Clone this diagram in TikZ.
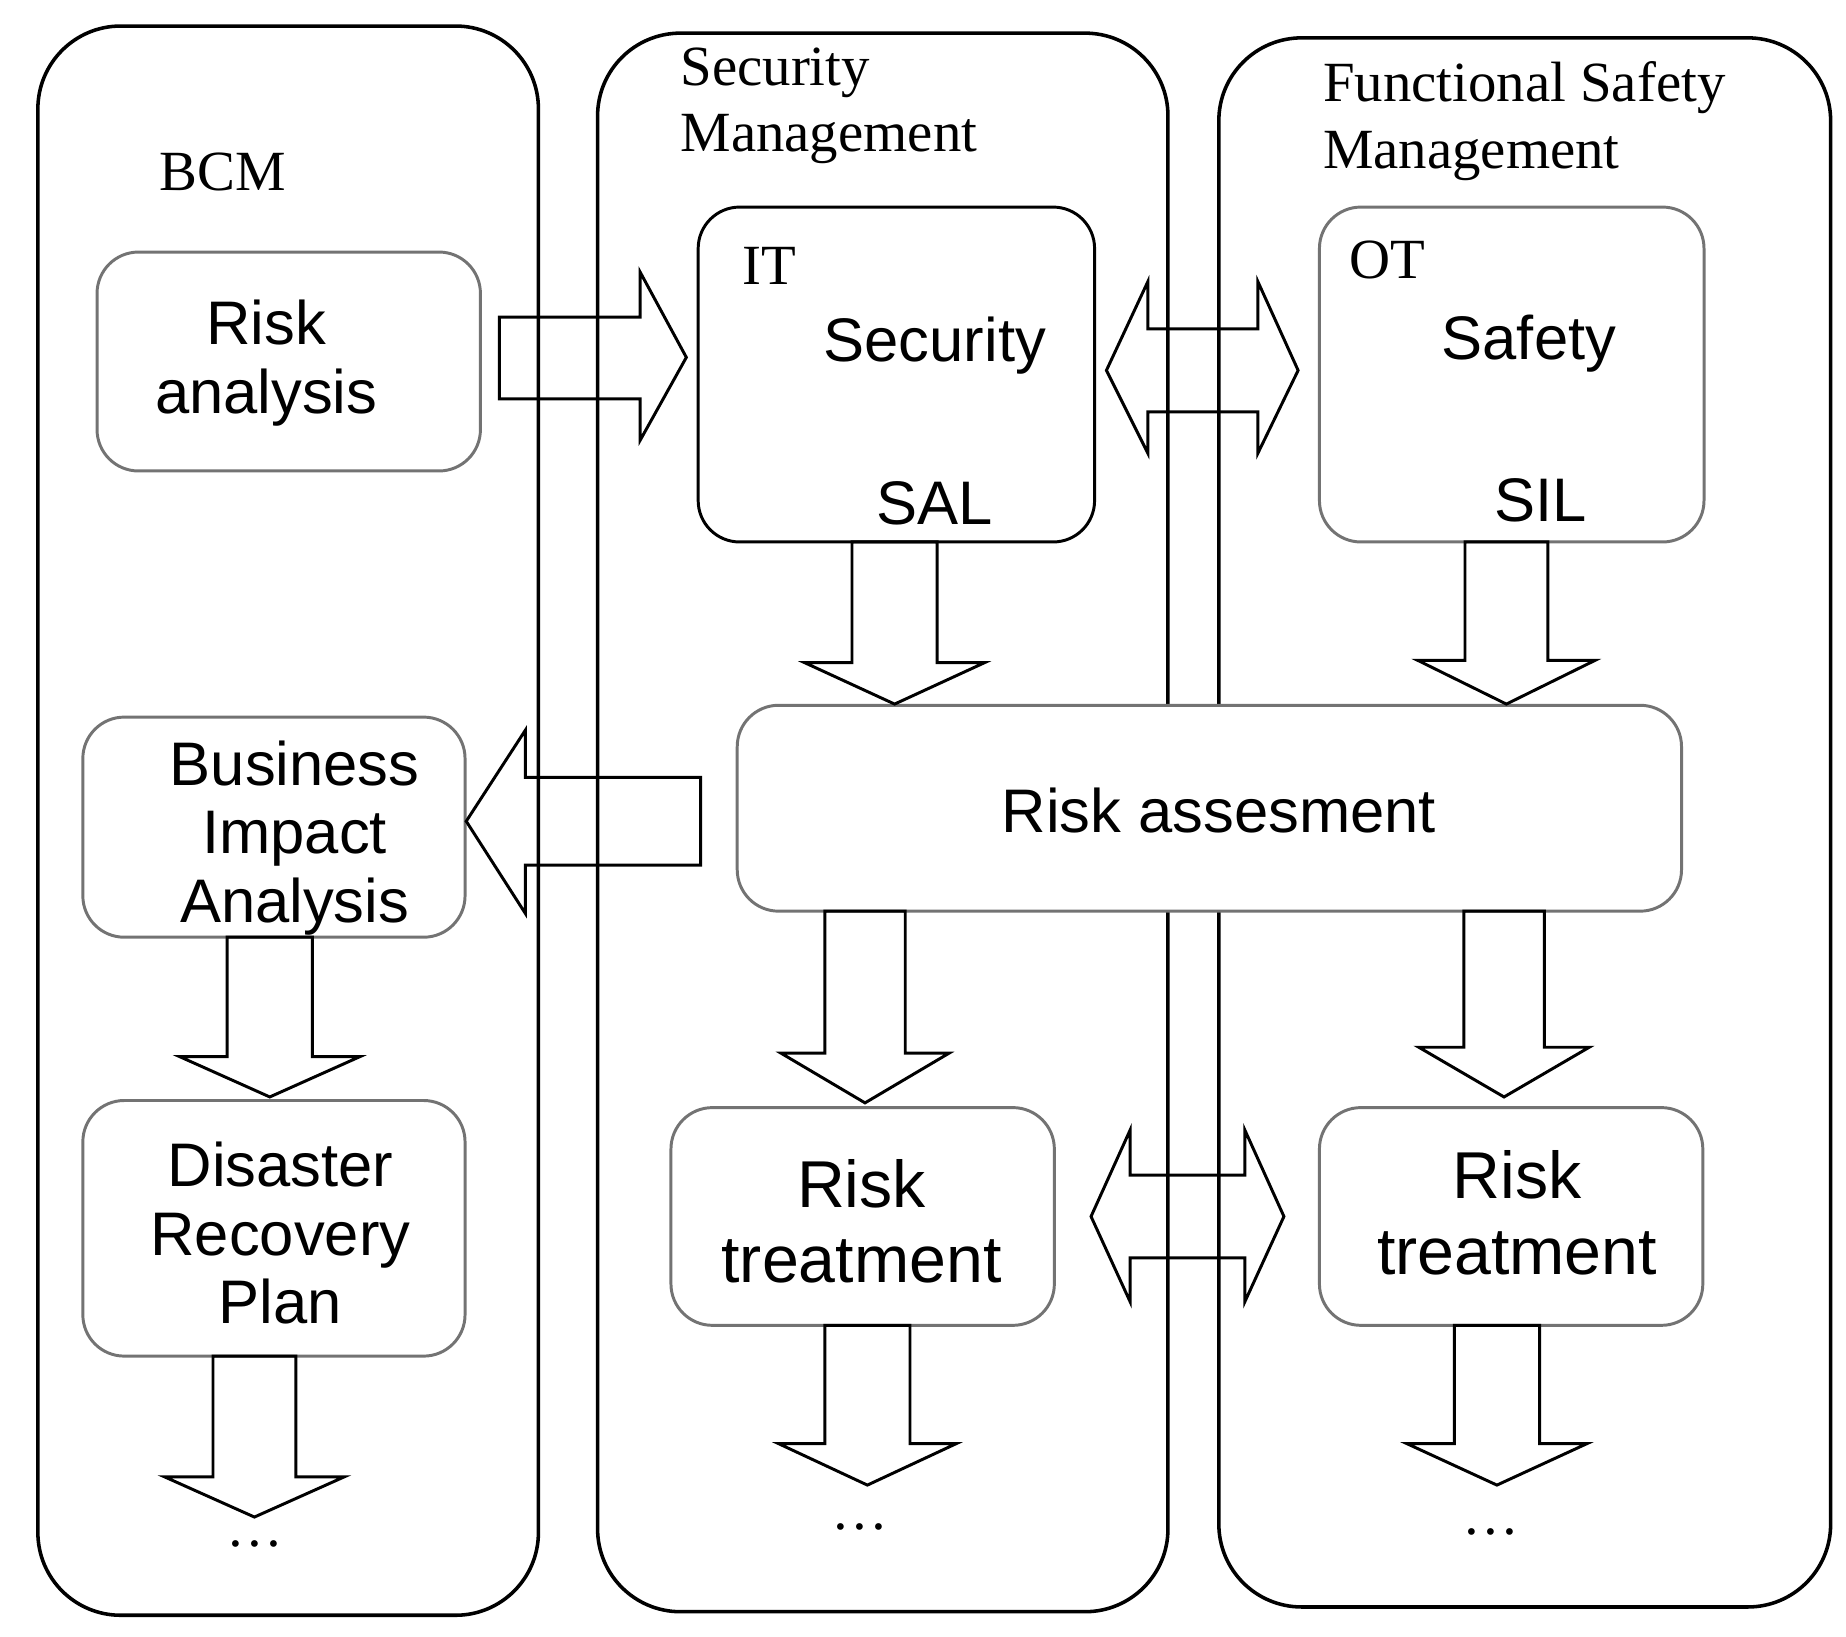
\documentclass[tikz,border=0pt]{standalone}
\usepackage{fontspec}
\setmainfont{Liberation Serif}
\newfontfamily\sansf{Liberation Sans}
\begin{document}
\begin{tikzpicture}[x=1pt,y=-1pt,
 lane/.style={draw=black,line width=3pt,rounded corners=70pt},
 gbox/.style={draw=black!55,line width=2.5pt,rounded corners=35pt,fill=white},
 bbox/.style={draw=black,line width=2.5pt,rounded corners=35pt,fill=white},
 blk/.style={draw=black,line width=2.5pt,line join=miter},
 stxt/.style={font=\sansf\fontsize{52}{58}\selectfont,align=center,inner sep=0pt},
 rtxt/.style={font=\fontsize{48}{56}\selectfont,align=left,inner sep=0pt}]
\useasboundingbox (0,0) rectangle (1560,1383);
\newcommand\dar[6]{% cx ytop ytip bodyhalf headhalf headstart
 \draw[blk] ({#1-#4},#2) -- ({#1-#4},#6) -- ({#1-#5},#6) -- (#1,#3) -- ({#1+#5},#6) -- ({#1+#4},#6) -- ({#1+#4},#2) -- cycle;}
% lanes
\node[lane,minimum width=423pt,minimum height=1343pt] (bcm) at (243.5,693.5) {};
\node[lane,minimum width=482pt,minimum height=1334pt] (sec) at (746,695) {};
\node[lane,minimum width=517pt,minimum height=1326pt] (fsm) at (1288.5,695) {};
\node[rtxt] (tbcm) at (188,145) {BCM};
\node[rtxt,anchor=north west] (tsec) at (575,40) {Security\\Management};
\node[rtxt,anchor=north west] (tfsm) at (1118,52) {Functional Safety\\Management};
% boxes
\node[gbox,minimum width=324pt,minimum height=185pt] (ra) at (244,305.5) {};
\node[stxt] at (225,307) {Risk\\analysis};
\node[bbox,minimum width=335pt,minimum height=283pt] (it) at (757.5,316.5) {};
\node[gbox,minimum width=325pt,minimum height=283pt] (ot) at (1277.5,316.5) {};
\node[rtxt] (tit) at (650,225) {IT};
\node[rtxt] (tot) at (1172,220) {OT};
\node[stxt] (tsecu) at (790,292) {Security};
\node[stxt] (tsal) at (790,425) {SAL};
\node[stxt] (tsaf) at (1292,290) {Safety};
\node[stxt] (tsil) at (1302,423) {SIL};
\node[gbox,minimum width=798pt,minimum height=174pt] (ras) at (1022,683) {};
\node[stxt] at (1030,685) {Risk assesment};
\node[gbox,minimum width=323pt,minimum height=186pt] (bia) at (231.5,699) {};
\node[stxt] at (249,708) {Business\\Impact\\Analysis};
\node[gbox,minimum width=323pt,minimum height=216pt] (drp) at (231.5,1038) {};
\node[stxt] at (237,1042) {Disaster\\Recovery\\Plan};
\node[gbox,minimum width=324pt,minimum height=184pt] (rt1) at (729,1028) {};
\node[stxt,font=\sansf\fontsize{56}{64}\selectfont] at (728,1032) {Risk\\treatment};
\node[gbox,minimum width=324pt,minimum height=184pt] (rt2) at (1277,1028) {};
\node[stxt,font=\sansf\fontsize{56}{64}\selectfont] at (1282,1025) {Risk\\treatment};
\node[rtxt] at (215,1305) {\dots};
\node[rtxt] at (727,1290) {\dots};
\node[rtxt] at (1260,1295) {\dots};
% down arrows
\dar{756}{458}{595}{36}{76}{560}
\dar{1273}{458}{595}{35}{75}{558}
\dar{731}{770}{932}{34}{71}{890}
\dar{1271}{770}{927}{34}{72}{885}
\dar{228}{792}{927}{36}{76}{893}
\dar{215}{1146}{1282}{35}{76}{1248}
\dar{733}{1120}{1255}{36}{75}{1220}
\dar{1265}{1120}{1255}{36}{76}{1220}
% right arrow
\draw[blk] (422,268) -- (541,268) -- (541,230) -- (580,302) -- (541,372) -- (541,337) -- (422,337) -- cycle;
% left arrow
\draw[blk] (592,657) -- (444,657) -- (444,617) -- (394,694) -- (444,772) -- (444,731) -- (592,731) -- cycle;
% double arrows
\draw[blk] (935,313) -- (970,238) -- (970,278) -- (1063,278) -- (1063,238) -- (1097,313) -- (1063,383) -- (1063,348) -- (970,348) -- (970,383) -- cycle;
\draw[blk] (922,1028) -- (955,955) -- (955,993) -- (1052,993) -- (1052,955) -- (1085,1028) -- (1052,1100) -- (1052,1063) -- (955,1063) -- (955,1100) -- cycle;
\end{tikzpicture}
\end{document}
